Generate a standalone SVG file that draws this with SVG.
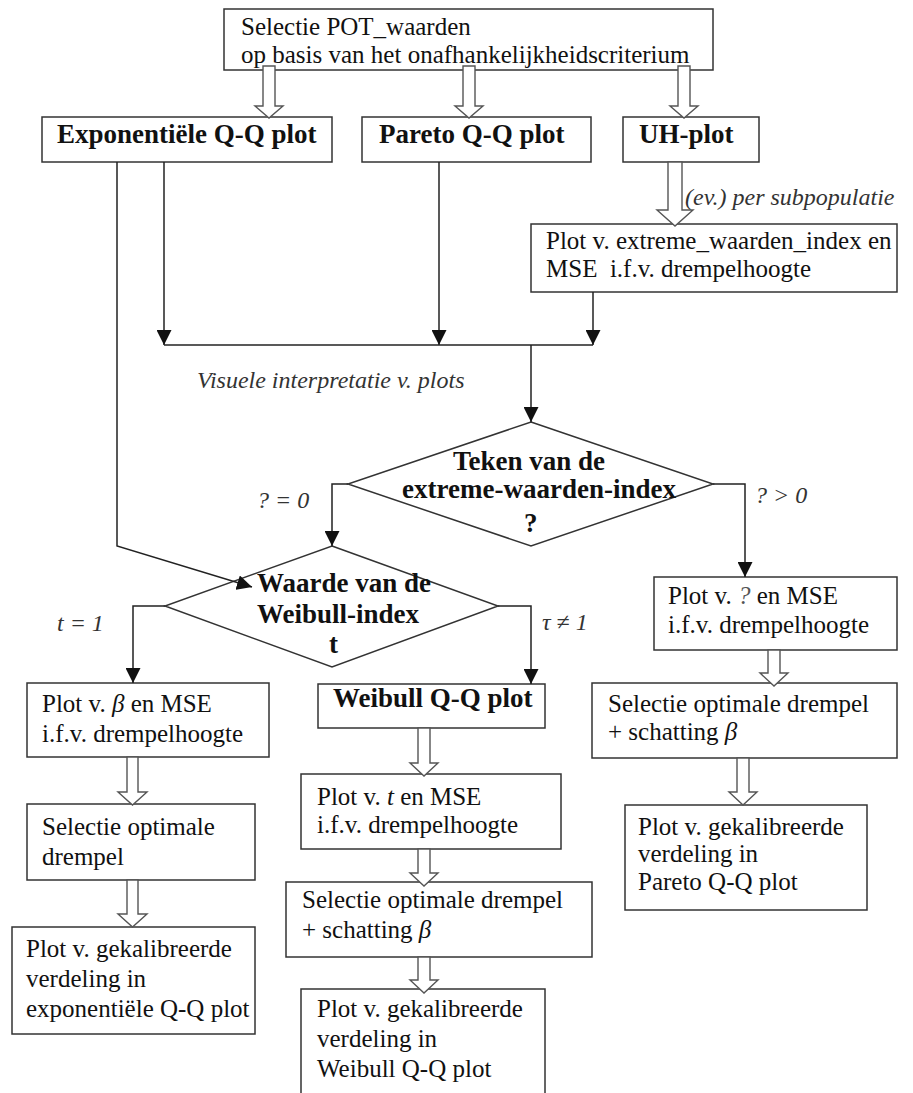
<svg xmlns="http://www.w3.org/2000/svg" width="913" height="1093" viewBox="0 0 913 1093">
  <style>
    .box { fill: #fff; stroke: #333; stroke-width: 1.5; }
    .dia { fill: #fff; stroke: #333; stroke-width: 1.5; }
    .ln { fill: none; stroke: #222; stroke-width: 1.5; }
    .hol { fill: #fff; stroke: #555; stroke-width: 1.4; }
    .t { font-family: "Liberation Serif", "Times New Roman", serif; font-size: 25px; fill: #111; }
    .b { font-family: "Liberation Serif", "Times New Roman", serif; font-size: 27px; font-weight: bold; fill: #111; }
    .i { font-family: "Liberation Serif", "Times New Roman", serif; font-size: 24px; font-style: italic; fill: #333; }
    .g { font-style: italic; }
  </style>
  <defs>
    <marker id="ah" markerUnits="userSpaceOnUse" markerWidth="15" markerHeight="15" refX="15" refY="7.5" orient="auto">
      <path d="M0,0 L15,7.5 L0,15 Z" fill="#111"/>
    </marker>
  </defs>

  <rect width="913" height="1093" fill="#fff"/>

  <g id="n-selectie-pot">
    <rect class="box" x="224" y="9" width="489" height="61"/>
    <text class="t" x="241" y="35">Selectie POT_waarden</text>
    <text class="t" x="241" y="63">op basis van het onafhankelijkheidscriterium</text>
  </g>

  <g id="n-exp-qq">
    <rect class="box" x="42" y="117" width="290" height="45"/>
    <text class="b" x="57" y="143">Exponentiële Q-Q plot</text>
  </g>

  <g id="n-pareto-qq">
    <rect class="box" x="362" y="117" width="229" height="45"/>
    <text class="b" x="379" y="143">Pareto Q-Q plot</text>
  </g>

  <g id="n-uh-plot">
    <rect class="box" x="623" y="117" width="136" height="45"/>
    <text class="b" x="639" y="143">UH-plot</text>
  </g>

  <g id="n-evi-plot">
    <rect class="box" x="531" y="224" width="366" height="68"/>
    <text class="t" x="546" y="249">Plot v. extreme_waarden_index en</text>
    <text class="t" x="546" y="277" xml:space="preserve">MSE  i.f.v. drempelhoogte</text>
  </g>

  <g id="n-teken">
    <polygon class="dia" points="531,422 713,484 531,546 348,484"/>
    <text class="b" x="453" y="470">Teken van de</text>
    <text class="b" x="402" y="498">extreme-waarden-index</text>
    <text class="b" x="524" y="532">?</text>
  </g>

  <g id="n-weibull-index">
    <polygon class="dia" points="332,546 498,606 332,667 165,606"/>
    <text class="b" x="257" y="592">Waarde van de</text>
    <text class="b" x="257" y="623">Weibull-index</text>
    <text class="b" x="329" y="653">t</text>
  </g>

  <g id="n-beta-plot">
    <rect class="box" x="27" y="683" width="242" height="74"/>
    <text class="t" x="42" y="712">Plot v. <tspan class="g">β</tspan> en MSE</text>
    <text class="t" x="42" y="742">i.f.v. drempelhoogte</text>
  </g>

  <g id="n-sel-left">
    <rect class="box" x="27" y="804" width="228" height="76"/>
    <text class="t" x="42" y="835">Selectie optimale</text>
    <text class="t" x="42" y="865">drempel</text>
  </g>

  <g id="n-cal-exp">
    <rect class="box" x="12" y="927" width="243" height="107"/>
    <text class="t" x="26" y="957">Plot v. gekalibreerde</text>
    <text class="t" x="26" y="987">verdeling in</text>
    <text class="t" x="26" y="1017">exponentiële Q-Q plot</text>
  </g>

  <g id="n-weibull-qq">
    <rect class="box" x="318" y="684" width="227" height="44"/>
    <text class="b" x="333" y="707">Weibull Q-Q plot</text>
  </g>

  <g id="n-tau-plot">
    <rect class="box" x="301" y="774" width="260" height="75"/>
    <text class="t" x="317" y="805">Plot v. <tspan class="g">t</tspan> en MSE</text>
    <text class="t" x="317" y="833">i.f.v. drempelhoogte</text>
  </g>

  <g id="n-sel-mid">
    <rect class="box" x="286" y="882" width="306" height="75"/>
    <text class="t" x="302" y="908">Selectie optimale drempel</text>
    <text class="t" x="302" y="938">+ schatting <tspan class="g">β</tspan></text>
  </g>

  <g id="n-cal-weibull">
    <rect class="box" x="301" y="989" width="244" height="120"/>
    <text class="t" x="317" y="1017">Plot v. gekalibreerde</text>
    <text class="t" x="317" y="1047">verdeling in</text>
    <text class="t" x="317" y="1077">Weibull Q-Q plot</text>
  </g>

  <g id="n-gamma-plot">
    <rect class="box" x="654" y="577" width="243" height="73"/>
    <text class="t" x="668" y="604">Plot v. <tspan class="g" fill="#555">?</tspan> en MSE</text>
    <text class="t" x="668" y="633">i.f.v. drempelhoogte</text>
  </g>

  <g id="n-sel-right">
    <rect class="box" x="592" y="683" width="305" height="75"/>
    <text class="t" x="608" y="712">Selectie optimale drempel</text>
    <text class="t" x="608" y="740">+ schatting <tspan class="g">β</tspan></text>
  </g>

  <g id="n-cal-pareto">
    <rect class="box" x="625" y="805" width="242" height="105"/>
    <text class="t" x="638" y="835">Plot v. gekalibreerde</text>
    <text class="t" x="638" y="862">verdeling in</text>
    <text class="t" x="638" y="890">Pareto Q-Q plot</text>
  </g>

  <!-- connectors: thin lines with filled heads, and hollow block arrows (drawn above the nodes) -->
  <g id="connectors">
    <path class="ln" d="M117,162 V546 L252,587" marker-end="url(#ah)"/>
    <path class="ln" d="M164,162 V345" marker-end="url(#ah)"/>
    <path class="ln" d="M439,162 V345" marker-end="url(#ah)"/>
    <path class="ln" d="M593,292 V345" marker-end="url(#ah)"/>
    <path class="ln" d="M164,345 H593"/>
    <path class="ln" d="M531,345 V422" marker-end="url(#ah)"/>
    <path class="ln" d="M348,484 H332 V546" marker-end="url(#ah)"/>
    <path class="ln" d="M713,484 H745 V577" marker-end="url(#ah)"/>
    <path class="ln" d="M165,606 H133 V683" marker-end="url(#ah)"/>
    <path class="ln" d="M498,606 H531 V684" marker-end="url(#ah)"/>

    <path class="hol" d="M263,66 V106 H255 L269,118 L283,106 H275 V66 Z"/>
    <path class="hol" d="M463,66 V106 H455 L469,118 L483,106 H475 V66 Z"/>
    <path class="hol" d="M678,66 V106 H670 L684,118 L698,106 H690 V66 Z"/>
    <path class="hol" d="M668,162 V210 H657 L675,226 L693,210 H682 V162 Z"/>
    <path class="hol" d="M127,757 V792 H118 L132.5,805 L147,792 H138 V757 Z"/>
    <path class="hol" d="M127,880 V914 H118 L132.5,927 L147,914 H138 V880 Z"/>
    <path class="hol" d="M418,728 V763 H410 L424,776 L438,763 H430 V728 Z"/>
    <path class="hol" d="M418,849 V873 H410 L424,886 L438,873 H430 V849 Z"/>
    <path class="hol" d="M418,957 V980 H410 L424,993 L438,980 H430 V957 Z"/>
    <path class="hol" d="M768,650 V673 H760 L774,686 L788,673 H780 V650 Z"/>
    <path class="hol" d="M737,758 V792 H729 L743,805 L757,792 H749 V758 Z"/>

    <text class="i" x="685" y="205">(ev.) per subpopulatie</text>
    <text class="i" x="197" y="388">Visuele interpretatie v. plots</text>
    <text class="i" x="257" y="508">? = 0</text>
    <text class="i" x="755" y="503">? &gt; 0</text>
    <text class="i" x="57" y="631">t = 1</text>
    <text class="i" x="542" y="630">τ ≠ 1</text>
  </g>
</svg>
